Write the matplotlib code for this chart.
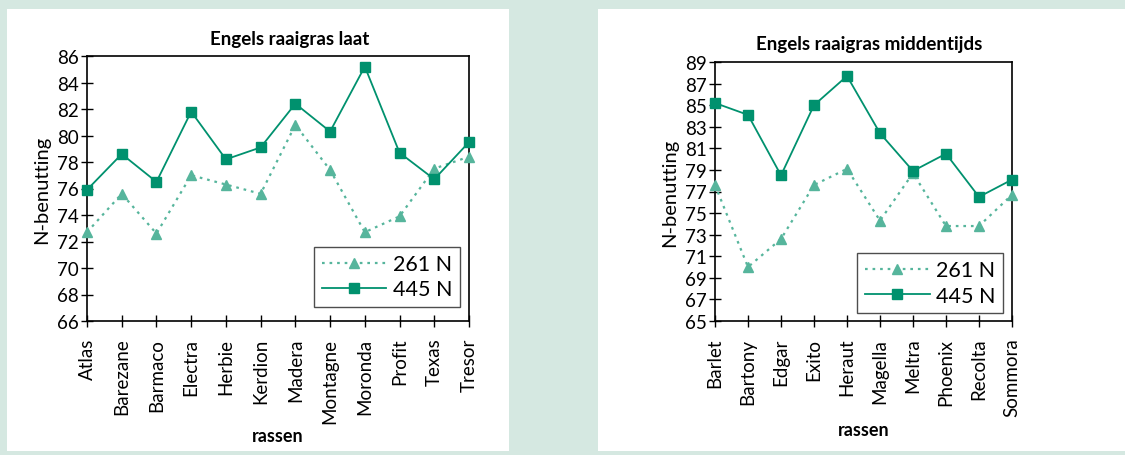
import matplotlib
matplotlib.use("Agg")
import matplotlib.pyplot as plt
from matplotlib.patches import Rectangle

# Engels raaigras laat
laat_rassen = ["Atlas", "Barezane", "Barmaco", "Electra", "Herbie", "Kerdion",
               "Madera", "Montagne", "Moronda", "Profit", "Texas", "Tresor"]
laat_261 = [72.7, 75.6, 72.6, 77.0, 76.3, 75.6, 80.8, 77.4, 72.7, 73.9, 77.5, 78.4]
laat_445 = [75.9, 78.6, 76.5, 81.8, 78.2, 79.1, 82.4, 80.3, 85.2, 78.7, 76.7, 79.5]

# Engels raaigras middentijds
mid_rassen = ["Barlet", "Bartony", "Edgar", "Exito", "Heraut", "Magella",
              "Meltra", "Phoenix", "Recolta", "Sommora"]
mid_261 = [77.6, 70.0, 72.6, 77.6, 79.1, 74.3, 78.7, 73.8, 73.8, 76.7]
mid_445 = [85.2, 84.1, 78.5, 85.0, 87.7, 82.4, 78.9, 80.5, 76.5, 78.1]

BG = "#d5e8e1"
C261 = "#56b59c"
C445 = "#00916e"
W, H = 1125, 456

plt.rcParams["font.family"] = ["Lato", "DejaVu Sans"]

fig = plt.figure(figsize=(W / 100, H / 100), dpi=100, facecolor=BG)
fig.patches.append(Rectangle((7 / W, 1 - 452 / H), 502 / W, 442 / H,
                             transform=fig.transFigure, facecolor="white",
                             edgecolor="none", zorder=-5))
fig.patches.append(Rectangle((598 / W, 1 - 452 / H), 540 / W, 442 / H,
                             transform=fig.transFigure, facecolor="white",
                             edgecolor="none", zorder=-5))


def panel(rect, title, rassen, v261, v445, ylo, yhi, legend_anchor, tx):
    ax = fig.add_axes(rect, zorder=2)
    x = range(len(rassen))
    ax.plot(x, v261, color=C261, ls=(0, (1.2, 2.2)), lw=1.6, marker="^",
            ms=7.5, mec=C261, mfc=C261, label="261 N", clip_on=False, zorder=3)
    ax.plot(x, v445, color=C445, ls="-", lw=1.3, marker="s",
            ms=6.5, mec=C445, mfc=C445, label="445 N", clip_on=False, zorder=4)
    ax.set_xlim(0, len(rassen) - 1)
    ax.set_ylim(ylo, yhi)
    ax.set_yticks(range(ylo, yhi + 1, 2))
    ax.set_xticks(list(x))
    ax.set_xticklabels(rassen, rotation=90, fontsize=13.5)
    ax.tick_params(axis="y", labelsize=13.5, direction="inout", length=8, width=1,
                   pad=2)
    ax.tick_params(axis="x", direction="inout", length=8, width=1, pad=8)
    for s in ax.spines.values():
        s.set_linewidth(1.2)
    ax.set_title(title, fontsize=13.5, fontweight="bold", pad=9, x=tx)
    ax.set_xlabel("rassen", fontsize=13, fontweight="bold", labelpad=3)
    ax.set_ylabel("N-benutting", fontsize=14.5, labelpad=5)
    leg = ax.legend(loc="lower right", bbox_to_anchor=legend_anchor,
                    fontsize=15.5, frameon=True, fancybox=False, handlelength=3.0,
                    handletextpad=0.3, borderpad=0.35, labelspacing=0.25,
                    borderaxespad=0)
    leg.get_frame().set_edgecolor("#222222")
    leg.get_frame().set_linewidth(1.0)
    return ax


panel([87 / W, 1 - 322 / H, 382 / W, 265 / H], "Engels raaigras laat",
      laat_rassen, laat_261, laat_445, 66, 86, (0.976, 0.053), 0.53)
panel([715 / W, 1 - 322 / H, 297 / W, 259 / H], "Engels raaigras middentijds",
      mid_rassen, mid_261, mid_445, 65, 89, (0.97, 0.03), 0.52)

fig.savefig("out.png", dpi=100, facecolor=BG)
